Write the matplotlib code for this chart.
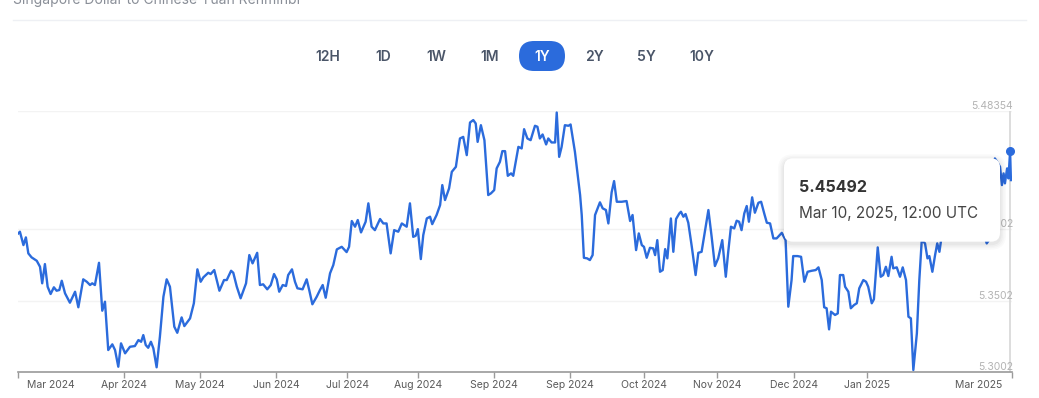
import matplotlib.pyplot as plt
from matplotlib.patches import FancyBboxPatch
from matplotlib.lines import Line2D
from matplotlib.transforms import ScaledTranslation, IdentityTransform

plt.rcParams['font.family'] = ['Inter', 'DejaVu Sans']

# days since Mar 10 2024 12:00 UTC, SGD -> CNY rate
days = [0.1, 0.7, 2.0, 2.9, 3.8, 5.0, 6.9, 8.1, 8.9, 9.9,
        10.9, 12.0, 13.2, 14.2, 15.2, 16.1, 17.3, 19.1, 21.0, 22.2,
        24.0, 25.3, 26.5, 27.3, 28.3, 29.8, 31.0, 32.0, 33.2, 34.7,
        35.7, 36.9, 37.9, 39.4, 41.2, 43.0, 44.3, 45.3, 46.1, 47.0,
        47.9, 48.9, 49.8, 51.0, 52.2, 53.5, 54.7, 55.9, 57.5, 58.6,
        60.2, 61.2, 63.3, 64.7, 66.0, 67.2, 68.2, 70.0, 70.9, 72.2,
        74.1, 75.8, 76.8, 78.4, 79.2, 80.5, 81.9, 83.9, 85.1, 86.3,
        88.0, 89.0, 90.2, 91.7, 93.0, 94.2, 95.2, 96.1, 97.4, 98.6,
        99.4, 100.8, 101.9, 102.8, 104.7, 106.2, 107.2, 108.3, 109.9, 111.1,
        112.1, 113.2, 114.8, 116.0, 117.3, 119.1, 120.9, 121.8, 122.8, 124.0,
        125.0, 126.2, 127.9, 128.9, 130.1, 131.3, 133.2, 134.4, 135.6, 137.1,
        138.4, 139.9, 141.2, 143.0, 144.2, 145.4, 146.3, 147.1, 148.2, 149.1,
        150.4, 151.6, 152.4, 154.0, 155.3, 156.1, 157.1, 158.6, 159.6, 161.1,
        162.6, 163.8, 165.1, 166.3, 167.5, 168.4, 169.1, 170.3, 171.6, 173.0,
        174.0, 175.2, 176.1, 177.3, 178.2, 179.2, 180.2, 181.4, 182.2, 184.1,
        185.3, 186.2, 187.4, 188.6, 190.2, 191.1, 192.0, 193.0, 194.3, 195.1,
        196.3, 197.6, 198.2, 199.1, 200.0, 201.2, 202.5, 203.3, 204.9, 206.8,
        207.4, 208.2, 209.4, 210.4, 211.4, 212.3, 213.5, 214.1, 215.1, 216.3,
        217.2, 218.4, 219.3, 220.3, 222.1, 223.9, 225.2, 226.1, 227.4, 228.4,
        229.5, 230.3, 231.3, 232.5, 233.7, 234.4, 235.2, 236.2, 237.2, 238.1,
        238.9, 240.2, 241.1, 242.1, 243.3, 243.9, 244.8, 245.6, 246.6, 247.9,
        249.3, 250.3, 251.5, 252.7, 254.0, 255.2, 256.4, 257.6, 259.1, 260.4,
        261.3, 262.3, 263.5, 264.4, 265.3, 266.2, 267.2, 268.1, 268.9, 270.1,
        271.1, 272.4, 273.4, 274.6, 275.5, 276.7, 277.9, 279.1, 281.0, 282.4,
        283.4, 284.6, 285.2, 286.8, 288.1, 289.3, 290.5, 292.0, 293.5, 294.5,
        295.7, 296.6, 297.5, 298.4, 299.1, 300.6, 301.6, 302.4, 303.6, 304.3,
        305.5, 306.4, 307.6, 308.6, 309.5, 311.0, 312.0, 312.8, 314.1, 314.9,
        316.3, 317.4, 318.3, 319.3, 320.2, 321.4, 322.0, 323.3, 324.5, 325.5,
        326.7, 327.6, 328.5, 329.4, 330.7, 331.6, 332.5, 333.7, 334.6, 335.3,
        336.4, 337.4, 338.2, 339.0, 340.4, 342.2, 344.0, 345.8, 347.7, 349.5,
        351.3, 353.2, 354.7, 356.4, 357.2, 358.3, 359.4, 360.3, 361.3, 362.0,
        362.6, 363.1, 363.9, 364.4, 365.0, 365.3]

rate = [5.3974, 5.3986, 5.3892, 5.3946, 5.3834, 5.3806, 5.3782, 5.3740, 5.3624, 5.3759,
        5.3600, 5.3549, 5.3596, 5.3572, 5.3577, 5.3642, 5.3554, 5.3488, 5.3565, 5.3456,
        5.3652, 5.3635, 5.3612, 5.3624, 5.3612, 5.3768, 5.3432, 5.3495, 5.3156, 5.3196,
        5.3156, 5.3039, 5.3203, 5.3133, 5.3179, 5.3184, 5.3226, 5.3214, 5.3261, 5.3191,
        5.3172, 5.3214, 5.3168, 5.3035, 5.3249, 5.3530, 5.3652, 5.3600, 5.3320, 5.3277,
        5.3385, 5.3324, 5.3378, 5.3484, 5.3722, 5.3635, 5.3666, 5.3698, 5.3689, 5.3717,
        5.3572, 5.3647, 5.3647, 5.3712, 5.3698, 5.3600, 5.3519, 5.3624, 5.3822, 5.3764,
        5.3838, 5.3612, 5.3617, 5.3582, 5.3612, 5.3689, 5.3652, 5.3565, 5.3612, 5.3605,
        5.3682, 5.3722, 5.3635, 5.3589, 5.3582, 5.3652, 5.3572, 5.3477, 5.3530, 5.3577,
        5.3612, 5.3523, 5.3694, 5.3752, 5.3862, 5.3880, 5.3843, 5.3880, 5.4061, 5.4021,
        5.4068, 5.3981, 5.4056, 5.4185, 5.4021, 5.3997, 5.4075, 5.4044, 5.4044, 5.3834,
        5.3997, 5.3986, 5.4044, 5.4021, 5.4185, 5.3950, 5.3957, 5.4004, 5.3794, 5.3962,
        5.4079, 5.4091, 5.4039, 5.4103, 5.4173, 5.4313, 5.4208, 5.4290, 5.4406, 5.4441,
        5.4640, 5.4651, 5.4523, 5.4752, 5.4769, 5.4745, 5.4616, 5.4733, 5.4628, 5.4243,
        5.4255, 5.4278, 5.4430, 5.4476, 5.4551, 5.4551, 5.4378, 5.4395, 5.4378, 5.4581,
        5.4570, 5.4705, 5.4640, 5.4628, 5.4729, 5.4722, 5.4640, 5.4668, 5.4598, 5.4640,
        5.4612, 5.4612, 5.4822, 5.4511, 5.4581, 5.4733, 5.4729, 5.4738, 5.4546, 5.4243,
        5.4103, 5.3803, 5.3799, 5.3787, 5.3822, 5.4103, 5.4161, 5.4192, 5.4150, 5.4138,
        5.4044, 5.4262, 5.4341, 5.4196, 5.4196, 5.4201, 5.4061, 5.4103, 5.3857, 5.3974,
        5.3892, 5.3880, 5.3803, 5.3873, 5.3869, 5.3822, 5.3927, 5.3705, 5.3717, 5.3864,
        5.3799, 5.4079, 5.3845, 5.4075, 5.4114, 5.4126, 5.4091, 5.4110, 5.4049, 5.3880,
        5.3682, 5.3838, 5.3845, 5.3986, 5.4138, 5.3950, 5.3745, 5.3799, 5.3927, 5.3670,
        5.3845, 5.4021, 5.4009, 5.4063, 5.4056, 5.3997, 5.4114, 5.4166, 5.4056, 5.4227,
        5.4119, 5.4189, 5.4196, 5.4110, 5.4049, 5.4044, 5.3939, 5.3939, 5.3978, 5.3927,
        5.3460, 5.3647, 5.3815, 5.3815, 5.3810, 5.3635, 5.3705, 5.3712, 5.3717, 5.3736,
        5.3647, 5.3456, 5.3449, 5.3301, 5.3425, 5.3402, 5.3413, 5.3682, 5.3682, 5.3600,
        5.3565, 5.3449, 5.3472, 5.3484, 5.3589, 5.3647, 5.3635, 5.3600, 5.3484, 5.3512,
        5.3876, 5.3670, 5.3682, 5.3740, 5.3675, 5.3810, 5.3729, 5.3736, 5.3670, 5.3736,
        5.3647, 5.3390, 5.3378, 5.3016, 5.3273, 5.3647, 5.3927, 5.3904, 5.3799, 5.3815,
        5.3705, 5.3822, 5.3904, 5.3845, 5.4032, 5.3983, 5.4103, 5.4054, 5.4173, 5.4124,
        5.4208, 5.4103, 5.4011, 5.3904, 5.3927, 5.4173, 5.4500, 5.4474, 5.4441, 5.4313,
        5.4395, 5.4325, 5.4430, 5.4360, 5.45492, 5.4348]

hover_idx = len(days) - 2   # Mar 10, 2025, 12:00 UTC

tick_days = [0, 39.0, 67.0, 95.0, 121.2, 147.1, 175.1, 203.2, 230.2, 257.3, 285.4, 312.3, 365.6]
tick_labels = ['Mar 2024', 'Apr 2024', 'May 2024', 'Jun 2024', 'Jul 2024', 'Aug 2024',
               'Sep 2024', 'Sep 2024', 'Oct 2024', 'Nov 2024', 'Dec 2024', 'Jan 2025', 'Mar 2025']
y_ticks = [5.3002, 5.3502, 5.4002, 5.48354]
y_labels = ['5.3002', '5.3502', '5.4002', '5.48354']

buttons = ['12H', '1D', '1W', '1M', '1Y', '2Y', '5Y', '10Y']
button_x = [328, 383, 436, 490, 542, 594, 646, 702]
active = '1Y'

BLUE = '#2b6bdc'
W, H = 1039, 398

fig = plt.figure(figsize=(W / 100, H / 100), dpi=100)
fig.patch.set_facecolor('white')


def fx(px):
    return px / W


def fy(py):
    return 1 - py / H


ax = fig.add_axes([fx(18), fy(372), fx(1012) - fx(18), fy(110.6) - fy(372)])
ax.plot(days, rate, color=BLUE, lw=1.7, solid_joinstyle='round', zorder=3)
ax.axvline(days[hover_idx], color='#dadada', lw=1.3, zorder=2)
ax.plot(days[hover_idx], rate[hover_idx], 'o', ms=5.5, color=BLUE, zorder=4, clip_on=False)

ax.set_xlim(0, 365.7)
ax.set_ylim(5.3002, 5.48354)
ax.set_yticks(y_ticks)
ax.tick_params(axis='y', length=0, labelleft=False)
ax.grid(axis='y', color='#f3f3f3', lw=1)
ax.set_axisbelow(True)
for s in ['top', 'left', 'right']:
    ax.spines[s].set_visible(False)
ax.spines['bottom'].set_color('#9a9a9a')
ax.spines['bottom'].set_linewidth(1.2)

for v, lab in zip(y_ticks, y_labels):
    ax.text(1.001, v, lab, transform=ax.get_yaxis_transform(), ha='right', va='bottom',
            fontsize=7.5, color='#b3b3b3')

ax.set_xticks(tick_days)
ax.set_xticklabels(tick_labels, fontsize=7.5, color='#5a5a5a')
ax.tick_params(axis='x', length=4, width=1, color='#9a9a9a', pad=2)
xl = ax.get_xticklabels()
xl[0].set_ha('left')
xl[0].set_transform(xl[0].get_transform() + ScaledTranslation(9 / 100, 0, fig.dpi_scale_trans))
xl[-1].set_ha('right')
xl[-1].set_transform(xl[-1].get_transform() + ScaledTranslation(-9 / 100, 0, fig.dpi_scale_trans))

# header
fig.text(fx(13), fy(4), 'Singapore Dollar to Chinese Yuan Renminbi', va='baseline',
         fontsize=10, color='#8a8f98')
fig.add_artist(Line2D([fx(13), fx(1026)], [fy(20), fy(20)], color='#eef0f4', lw=1))

# range buttons
for name, bx in zip(buttons, button_x):
    if name == active:
        fig.add_artist(FancyBboxPatch((bx - 23, H - 71), 46, 30,
                                      boxstyle='round,pad=0,rounding_size=15',
                                      transform=IdentityTransform(), facecolor=BLUE,
                                      edgecolor='none'))
    fig.text(fx(bx), fy(57), name, ha='center', va='center', fontsize=10, fontweight='semibold',
             color='white' if name == active else '#4a5568')

# tooltip
tx0, ty0, tw, th = 784, H - 241.7, 216, 83.4
for i, a in enumerate([0.018, 0.02, 0.025, 0.03]):
    g = 6 - i * 1.5
    fig.add_artist(FancyBboxPatch((tx0 - g, ty0 - g - 2), tw + 2 * g, th + 2 * g,
                                  boxstyle='round,pad=0,rounding_size=%g' % (9 + g),
                                  transform=IdentityTransform(), facecolor='black',
                                  edgecolor='none', alpha=a, zorder=4))
fig.add_artist(FancyBboxPatch((tx0, ty0), tw, th, boxstyle='round,pad=0,rounding_size=9',
                              transform=IdentityTransform(), facecolor='white',
                              edgecolor='none', zorder=5))
fig.text(fx(799), fy(187), '%.5f' % rate[hover_idx], ha='left', va='center', fontsize=11.5,
         fontweight='bold', color='#333333', zorder=6)
fig.text(fx(799), fy(213.5), 'Mar 10, 2025, 12:00 UTC', ha='left', va='center', fontsize=11,
         color='#444444', zorder=6)

fig.savefig('out.png', dpi=100)
